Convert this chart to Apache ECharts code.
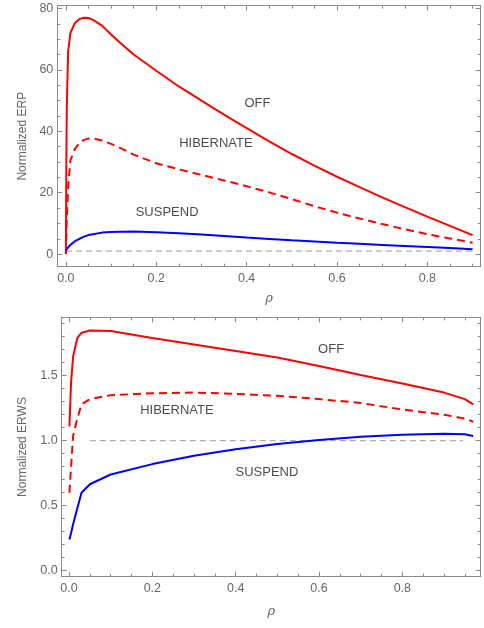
<!DOCTYPE html>
<html>
<head>
<meta charset="utf-8">
<script src="https://cdn.jsdelivr.net/npm/echarts@6/dist/echarts.min.js"></script>
<style>
html, body { margin: 0; padding: 0; background: #fff; }
#container { width: 484px; height: 628px; }
</style>
</head>
<body>
<div id="container"></div>
<script>
// upper panel: normalized ERP against rho
var rhoTop = [0, 0.001, 0.002, 0.005, 0.01, 0.02, 0.03, 0.04, 0.05, 0.06, 0.08, 0.1, 0.12, 0.15,
    0.2, 0.25, 0.3, 0.35, 0.4, 0.45, 0.5, 0.55, 0.6, 0.65, 0.7, 0.75, 0.8, 0.85, 0.9];
var erpOff = [0, 30, 48, 66, 72, 75.3, 76.6, 77, 76.9, 76.3, 74.4, 71.5, 68.8, 65,
    59.7, 54.6, 50, 45.4, 41, 36.7, 32.6, 28.8, 25.2, 21.8, 18.5, 15.3, 12.2, 9.2, 6.2];
var erpHibernate = [0, 6, 11, 22, 30.5, 34.3, 36.2, 37.2, 37.6, 37.7, 37.0, 35.9, 34.6, 32.4,
    29.6, 27.6, 25.8, 24, 22.1, 20.1, 17.9, 15.6, 13.5, 11.6, 9.8, 8.1, 6.5, 5.1, 3.7];
var erpSuspend = [1.2, 1.5, 1.8, 2.2, 3, 4.2, 5, 5.7, 6.2, 6.5, 7, 7.2, 7.3, 7.35,
    7.1, 6.8, 6.4, 5.9, 5.4, 4.95, 4.5, 4.1, 3.7, 3.35, 3.0, 2.65, 2.3, 1.95, 1.6];
var erpRefRho = [0, 0.9];
var erpRefVal = [1, 1];

// lower panel: normalized ERWS against rho
var rhoBottom = [0.001, 0.005, 0.01, 0.02, 0.03, 0.05, 0.1, 0.2, 0.3, 0.4, 0.5, 0.6, 0.7, 0.8, 0.9, 0.95, 0.97];
var erwsOff = [1.11, 1.45, 1.65, 1.79, 1.83, 1.848, 1.843, 1.79, 1.74, 1.69, 1.64, 1.575, 1.505, 1.44, 1.37, 1.32, 1.28];
var erwsHibernate = [0.6, 0.8, 1.04, 1.17, 1.28, 1.32, 1.35, 1.365, 1.37, 1.36, 1.345, 1.32, 1.29, 1.24, 1.2, 1.17, 1.146];
var erwsSuspend = [0.24, 0.29, 0.36, 0.48, 0.6, 0.665, 0.74, 0.82, 0.885, 0.935, 0.975, 1.005, 1.03, 1.045, 1.054, 1.05, 1.036];
var erwsRefRho = [0.05, 0.945];
var erwsRefVal = [1, 1];

// curve names written inside the plots
var noteText = ['OFF', 'HIBERNATE', 'SUSPEND'];
var noteTopRho = [0.424, 0.332, 0.224];
var noteTopVal = [49.2, 36.2, 13.7];
var noteBottomRho = [0.629, 0.259, 0.475];
var noteBottomVal = [1.705, 1.236, 0.754];

function pairs(xs, ys) {
    return xs.map(function (x, i) { return [x, ys[i]]; });
}

var dom = document.getElementById('container');
var myChart = echarts.init(dom, null, { renderer: 'canvas' });

var FONT = 'Liberation Sans';
var frameColor = '#8a8a8a';
var labelColor = '#666';

function isStep(v, step) {
    var r = v / step;
    return Math.abs(r - Math.round(r)) < 1e-6;
}

function frameAxis(gridIndex, position, min, max, split, step, digits, minorSplit, showLabel, extra) {
    var ax = {
        type: 'value',
        gridIndex: gridIndex,
        position: position,
        min: min,
        max: max,
        splitNumber: split,
        splitLine: { show: false },
        axisLine: { show: true, onZero: false, lineStyle: { color: frameColor, width: 1 } },
        axisTick: { show: true, inside: true, length: 5, lineStyle: { color: frameColor } },
        minorTick: { show: true, splitNumber: minorSplit, length: 3, lineStyle: { color: frameColor } },
        axisLabel: {
            show: showLabel,
            color: labelColor,
            fontFamily: FONT,
            fontSize: 12.5,
            margin: 5,
            formatter: function (v) {
                return isStep(v, step) ? v.toFixed(digits) : '';
            }
        }
    };
    if (extra) {
        for (var k in extra) ax[k] = extra[k];
    }
    return ax;
}

function curve(name, xi, yi, xs, ys, color, dashed) {
    return {
        name: name,
        type: 'line',
        xAxisIndex: xi,
        yAxisIndex: yi,
        data: pairs(xs, ys),
        showSymbol: false,
        silent: true,
        lineStyle: { color: color, width: 2, type: dashed ? [8, 5] : 'solid' },
        z: 3
    };
}

function refLine(xi, yi, xs, ys) {
    return {
        type: 'line',
        xAxisIndex: xi,
        yAxisIndex: yi,
        data: pairs(xs, ys),
        showSymbol: false,
        silent: true,
        lineStyle: { color: '#999', width: 1, type: [6, 4] },
        z: 2
    };
}

function notes(xi, yi, xs, ys) {
    return {
        type: 'scatter',
        xAxisIndex: xi,
        yAxisIndex: yi,
        symbolSize: 0,
        silent: true,
        data: xs.map(function (x, i) { return { name: noteText[i], value: [x, ys[i]] }; }),
        label: {
            show: true,
            position: 'inside',
            formatter: '{b}',
            color: '#1a1a1a',
            fontFamily: FONT,
            fontSize: 13
        },
        z: 4
    };
}

var nameStyle = { color: labelColor, fontFamily: FONT, fontSize: 12 };
var rhoStyle = { color: labelColor, fontFamily: 'DejaVu Serif', fontStyle: 'italic', fontSize: 13 };

option = {
    backgroundColor: '#fff',
    animation: false,
    grid: [
        { left: 57.3, right: 3.3, top: 5.7, height: 261, containLabel: false },
        { left: 61.7, right: 3.3, top: 317.3, height: 259.4, containLabel: false }
    ],
    xAxis: [
        frameAxis(0, 'bottom', -0.019, 0.918, 5, 0.2, 1, 4, true,
            { name: 'ρ', nameLocation: 'middle', nameGap: 25, nameTextStyle: rhoStyle }),
        frameAxis(0, 'top', -0.019, 0.918, 5, 0.2, 1, 4, false),
        frameAxis(1, 'bottom', -0.0175, 0.988, 5, 0.2, 1, 4, true,
            { name: 'ρ', nameLocation: 'middle', nameGap: 28, nameTextStyle: rhoStyle }),
        frameAxis(1, 'top', -0.0175, 0.988, 5, 0.2, 1, 4, false)
    ],
    yAxis: [
        frameAxis(0, 'left', -4.1, 80.9, 5, 20, 0, 4, true,
            { name: 'Normalized ERP', nameLocation: 'middle', nameGap: 29, nameTextStyle: nameStyle }),
        frameAxis(0, 'right', -4.1, 80.9, 5, 20, 0, 4, false),
        frameAxis(1, 'left', -0.046, 1.949, 4, 0.5, 1, 5, true,
            { name: 'Normalized ERWS', nameLocation: 'middle', nameGap: 33, nameTextStyle: nameStyle }),
        frameAxis(1, 'right', -0.046, 1.949, 4, 0.5, 1, 5, false)
    ],
    series: [
        refLine(0, 0, erpRefRho, erpRefVal),
        curve('OFF', 0, 0, rhoTop, erpOff, '#ff0000', false),
        curve('HIBERNATE', 0, 0, rhoTop, erpHibernate, '#ff0000', true),
        curve('SUSPEND', 0, 0, rhoTop, erpSuspend, '#0000ff', false),
        notes(0, 0, noteTopRho, noteTopVal),

        refLine(2, 2, erwsRefRho, erwsRefVal),
        curve('OFF', 2, 2, rhoBottom, erwsOff, '#ff0000', false),
        curve('HIBERNATE', 2, 2, rhoBottom, erwsHibernate, '#ff0000', true),
        curve('SUSPEND', 2, 2, rhoBottom, erwsSuspend, '#0000ff', false),
        notes(2, 2, noteBottomRho, noteBottomVal)
    ]
};

option.yAxis[0].axisLabel.margin = 4;
option.yAxis[2].axisLabel.margin = 4;

if (option && typeof option === "object") {
    myChart.setOption(option, true);
}
</script>
</body>
</html>
